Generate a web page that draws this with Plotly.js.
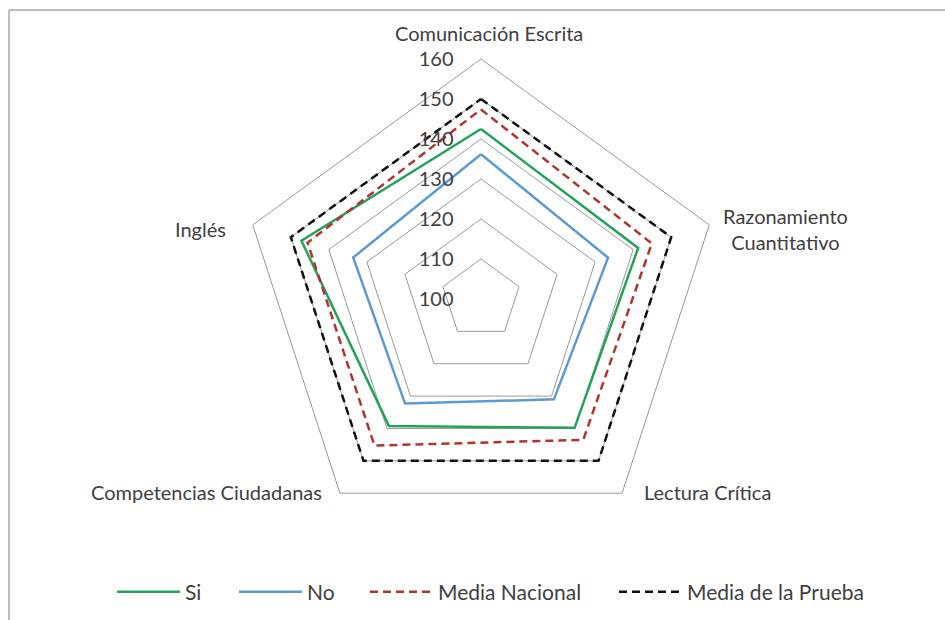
<!DOCTYPE html>
<html>
<head>
<meta charset="utf-8">
<script src="https://cdn.plot.ly/plotly-3.0.1.min.js"></script>
<style>html,body{margin:0;padding:0;background:#fff;}#chart{width:945px;height:620px;}</style>
</head>
<body>
<div id="chart"></div>
<script>
const categories = ['Comunicación Escrita', 'Razonamiento<br>Cuantitativo', 'Lectura Crítica', 'Competencias Ciudadanas', 'Inglés'];
const si = [142.5, 141.3, 139.8, 139.2, 147.2];
const no = [136.2, 133.4, 131.0, 132.3, 133.6];
const mediaNacional = [147.4, 144.9, 143.5, 145.3, 145.6];
const mediaPrueba = [150, 150, 150, 150, 150];
const radialTicks = [100, 110, 120, 130, 140, 150, 160];

const closeLoop = a => a.concat([a[0]]);
const theta = closeLoop(categories);

function series(name, vals, color, dash, lw) {
  return {
    type: 'scatterpolar', mode: 'lines', name: name,
    r: closeLoop(vals), theta: theta,
    line: {color: color, width: 2.5, dash: dash || 'solid'},
    legendwidth: lw,
    hoverinfo: 'skip'
  };
}

const data = [
  series('Si', si, '#25a25a', null, 44),
  series('No', no, '#5b9bd5', null, 53),
  series('Media Nacional', mediaNacional, '#b0352c', '8px,5px', 171),
  series('Media de la Prueba', mediaPrueba, '#111111', '8px,5px', 180)
];

const font = {family: 'Lato, "Liberation Sans", sans-serif', size: 20, color: '#404040'};
const legendFont = {family: 'Lato, "Liberation Sans", sans-serif', size: 21, color: '#404040'};

const labelPos = [[489, 33], [785, 229], [707, 492], [206, 492], [200, 229]];
const W = 945, H = 620;
const annotations = categories.map((c, i) => ({
  text: c, xref: 'paper', yref: 'paper',
  x: labelPos[i][0] / W, y: 1 - labelPos[i][1] / H,
  xanchor: 'center', yanchor: 'middle', showarrow: false,
  font: font, align: 'center'
}));

const layout = {
  width: W, height: H,
  margin: {l: 0, r: 0, t: 0, b: 0, autoexpand: false},
  paper_bgcolor: '#ffffff',
  font: font,
  showlegend: true,
  legend: {orientation: 'h', x: 112 / W, xanchor: 'left', y: 0.045, yanchor: 'middle', font: legendFont, itemwidth: 63},
  polar: {
    domain: {x: [0.255, 0.763], y: [0.1306, 0.9048]},
    bgcolor: '#ffffff',
    gridshape: 'linear',
    radialaxis: {
      range: [100, 160], angle: 90, side: 'counterclockwise', tickangle: 90,
      tickvals: radialTicks, ticktext: radialTicks.map(String),
      showline: false, ticks: 'outside', ticklen: 20, tickcolor: 'rgba(0,0,0,0)',
      gridcolor: '#9a9a9a', gridwidth: 1,
      tickfont: font
    },
    angularaxis: {
      rotation: 90, direction: 'clockwise',
      showgrid: false, showline: true, linecolor: '#9a9a9a', linewidth: 1,
      ticks: '', showticklabels: false
    }
  },
  annotations: annotations,
  shapes: [
    {type: 'line', xref: 'paper', yref: 'paper', x0: 9/W, x1: 1.01, y0: 1 - 10/H, y1: 1 - 10/H, line: {color: '#a6a6a6', width: 1.5}},
    {type: 'line', xref: 'paper', yref: 'paper', x0: 9/W, x1: 9/W, y0: -0.01, y1: 1 - 10/H, line: {color: '#a6a6a6', width: 1.5}}
  ]
};

Plotly.newPlot('chart', data, layout, {displayModeBar: false, staticPlot: true});
</script>
</body>
</html>
